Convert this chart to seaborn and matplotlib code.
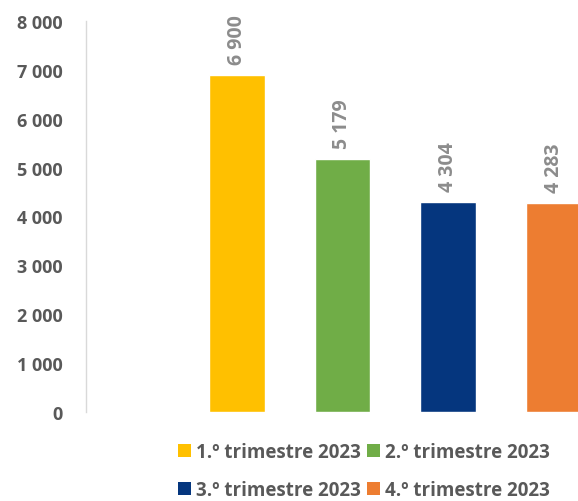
import matplotlib
matplotlib.use('Agg')
import matplotlib.pyplot as plt
from matplotlib.patches import Patch
from matplotlib.ticker import FuncFormatter
import pandas as pd
import seaborn as sns

# Dados por trimestre
trimestres = ['1.º trimestre 2023', '2.º trimestre 2023',
              '3.º trimestre 2023', '4.º trimestre 2023']
valores = [6900, 5179, 4304, 4283]
cores = ['#FFC000', '#70AD47', '#05367E', '#ED7D31']
y_ticks = [0, 1000, 2000, 3000, 4000, 5000, 6000, 7000, 8000]

df = pd.DataFrame({'trimestre': trimestres, 'valor': valores})

sns.set_style('white')
plt.rcParams['font.family'] = ['Open Sans', 'DejaVu Sans']

fig = plt.figure(figsize=(5.78, 5.02), dpi=100)
ax = fig.add_axes([86 / 578, 89 / 502, (578 - 86) / 578, 391 / 502])

sns.barplot(data=df, x='trimestre', y='valor', hue='trimestre',
            palette=cores, width=0.53, legend=False, ax=ax, saturation=1)

ax.set_xlim(-1.431, 3.232)
ax.set_ylim(0, 8000)
ax.set_yticks(y_ticks)
ax.yaxis.set_major_formatter(FuncFormatter(lambda v, p: f'{int(v):,}'.replace(',', ' ')))
ax.set_xticks([])
ax.set_xlabel('')
ax.set_ylabel('')

for s in ['top', 'right', 'bottom']:
    ax.spines[s].set_visible(False)
ax.spines['left'].set_color('#D9D9D9')
ax.spines['left'].set_linewidth(1)
ax.tick_params(axis='y', length=5, width=1, color='#D9D9D9',
               labelsize=13, labelcolor='#595959', pad=12)
for t in ax.get_yticklabels():
    t.set_fontweight('bold')

# Rótulos de dados
for i, v in enumerate(valores):
    ax.annotate(f'{v:,}'.replace(',', ' '), (i, v), xytext=(0, 8),
                textcoords='offset points', rotation=90, ha='center', va='bottom',
                fontsize=14, color='#8C8C8C', fontweight='bold')

# legenda em linhas: 1 2 / 3 4
ordem = [0, 2, 1, 3]
handles = [Patch(facecolor=cores[i], edgecolor='none') for i in ordem]
labels = [trimestres[i] for i in ordem]
fig.legend(handles, labels, loc='upper left', bbox_to_anchor=(178 / 578, 1 - 443 / 502),
           ncol=2, frameon=False, handlelength=0.7, handleheight=0.7,
           handletextpad=0.25, columnspacing=0.35, labelspacing=0.95,
           prop={'weight': 'bold', 'size': 13.5}, labelcolor='#595959',
           borderaxespad=0, borderpad=0)

fig.savefig('out.png', dpi=100)
